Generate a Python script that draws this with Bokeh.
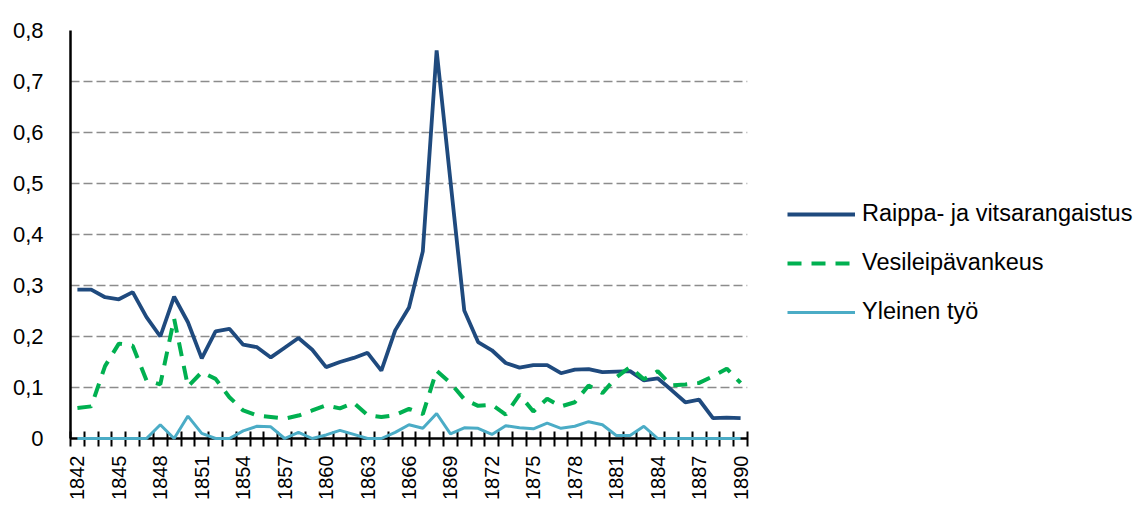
from bokeh.plotting import figure
from bokeh.models import (Range1d, FixedTicker, CustomJSTickFormatter, Legend, LegendItem)
from bokeh.embed import file_html
from bokeh.resources import INLINE

years = list(range(1842, 1891))
raippa = [0.292, 0.292, 0.277, 0.273, 0.287, 0.238, 0.200, 0.278, 0.228, 0.157,
          0.210, 0.215, 0.184, 0.179, 0.159, 0.178, 0.197, 0.174, 0.140, 0.150,
          0.158, 0.168, 0.133, 0.212, 0.257, 0.367, 0.761, 0.505, 0.251, 0.189,
          0.173, 0.148, 0.139, 0.144, 0.144, 0.128, 0.135, 0.136, 0.130, 0.131,
          0.132, 0.114, 0.118, 0.095, 0.071, 0.076, 0.040, 0.041, 0.040]
vesi = [0.060, 0.063, 0.142, 0.186, 0.182, 0.114, 0.106, 0.235, 0.102, 0.130,
        0.117, 0.081, 0.055, 0.045, 0.042, 0.039, 0.045, 0.055, 0.065, 0.059,
        0.070, 0.046, 0.042, 0.046, 0.058, 0.048, 0.133, 0.109, 0.077, 0.064,
        0.066, 0.047, 0.086, 0.053, 0.078, 0.063, 0.071, 0.104, 0.089, 0.120,
        0.140, 0.116, 0.132, 0.104, 0.106, 0.109, 0.122, 0.137, 0.109]
yleinen = [0, 0, 0, 0, 0, 0, 0.027, 0, 0.044, 0.010,
           0, 0, 0.015, 0.024, 0.023, 0, 0.012, 0, 0.007, 0.016,
           0.008, 0, 0, 0.012, 0.027, 0.020, 0.049, 0.009, 0.021, 0.020,
           0.008, 0.025, 0.021, 0.019, 0.030, 0.020, 0.024, 0.033, 0.027, 0.006,
           0.006, 0.024, 0, 0, 0, 0, 0, 0, 0]
series_names = ["Raippa- ja vitsarangaistus", "Vesileipävankeus", "Yleinen työ"]
label_years = list(range(1842, 1891, 3))
y_ticks = [0, 0.1, 0.2, 0.3, 0.4, 0.5, 0.6, 0.7, 0.8]

FONT = "Liberation Sans"

p = figure(frame_width=677, frame_height=408, output_backend="svg", toolbar_location=None,
           x_range=Range1d(years[0] - 0.5, years[-1] + 0.5), y_range=Range1d(0, 0.8),
           min_border_left=70, min_border_top=30, min_border_bottom=62,
           min_border_right=0)
p.outline_line_color = None
p.background_fill_color = "white"
p.border_fill_color = "white"

# grid
p.xgrid.visible = False
p.ygrid.ticker = FixedTicker(ticks=y_ticks)
p.ygrid.grid_line_color = "#8c8c8c"
p.ygrid.grid_line_dash = "9 4"
p.ygrid.grid_line_width = 1.6

# y axis
p.yaxis.ticker = FixedTicker(ticks=y_ticks)
p.yaxis.formatter = CustomJSTickFormatter(code="return tick == 0 ? '0' : tick.toFixed(1).replace('.', ',');")
p.yaxis.axis_line_color = "black"
p.yaxis.axis_line_width = 2.5
p.yaxis.major_tick_out = 0
p.yaxis.major_tick_in = 0
p.yaxis.minor_tick_line_color = None
p.yaxis.major_label_standoff = 27
p.yaxis.major_label_text_font = FONT
p.yaxis.major_label_text_font_size = "22px"
p.yaxis.major_label_text_color = "black"

# x axis
boundaries = [y - 0.5 for y in years] + [years[-1] + 0.5]
p.xaxis.ticker = FixedTicker(ticks=label_years, minor_ticks=boundaries)
p.xaxis.axis_line_color = "black"
p.xaxis.axis_line_width = 2.5
p.xaxis.major_tick_in = 0
p.xaxis.major_tick_out = 0
p.xaxis.minor_tick_in = 7
p.xaxis.minor_tick_out = 8
p.xaxis.minor_tick_line_color = "black"
p.xaxis.minor_tick_line_width = 2
p.xaxis.major_label_orientation = 1.5707963
p.xaxis.major_label_standoff = 9
p.xaxis.major_label_text_font = FONT
p.xaxis.major_label_text_font_size = "20px"
p.xaxis.major_label_text_color = "black"

r1 = p.line(years, raippa, line_color="#1f4a7e", line_width=3.8, level="overlay")
r2 = p.line(years, vesi, line_color="#00b050", line_width=4, line_dash="14 10",
            level="overlay")
r3 = p.line(years, yleinen, line_color="#4bacc6", line_width=3, level="overlay")

legend = Legend(items=[LegendItem(label=series_names[0], renderers=[r1]),
                       LegendItem(label=series_names[1], renderers=[r2]),
                       LegendItem(label=series_names[2], renderers=[r3])],
                location=(40, 113), orientation="vertical")
legend.border_line_color = None
legend.background_fill_alpha = 0
legend.padding = 0
legend.margin = 0
legend.glyph_width = 68
legend.glyph_height = 24
legend.label_height = 24
legend.spacing = 22
legend.label_standoff = 7
legend.label_text_font = FONT
legend.label_text_font_size = "23.5px"
legend.label_text_color = "black"
legend.label_text_baseline = "middle"
p.add_layout(legend, "right")

open("out.html", "w").write(file_html(p, INLINE))
